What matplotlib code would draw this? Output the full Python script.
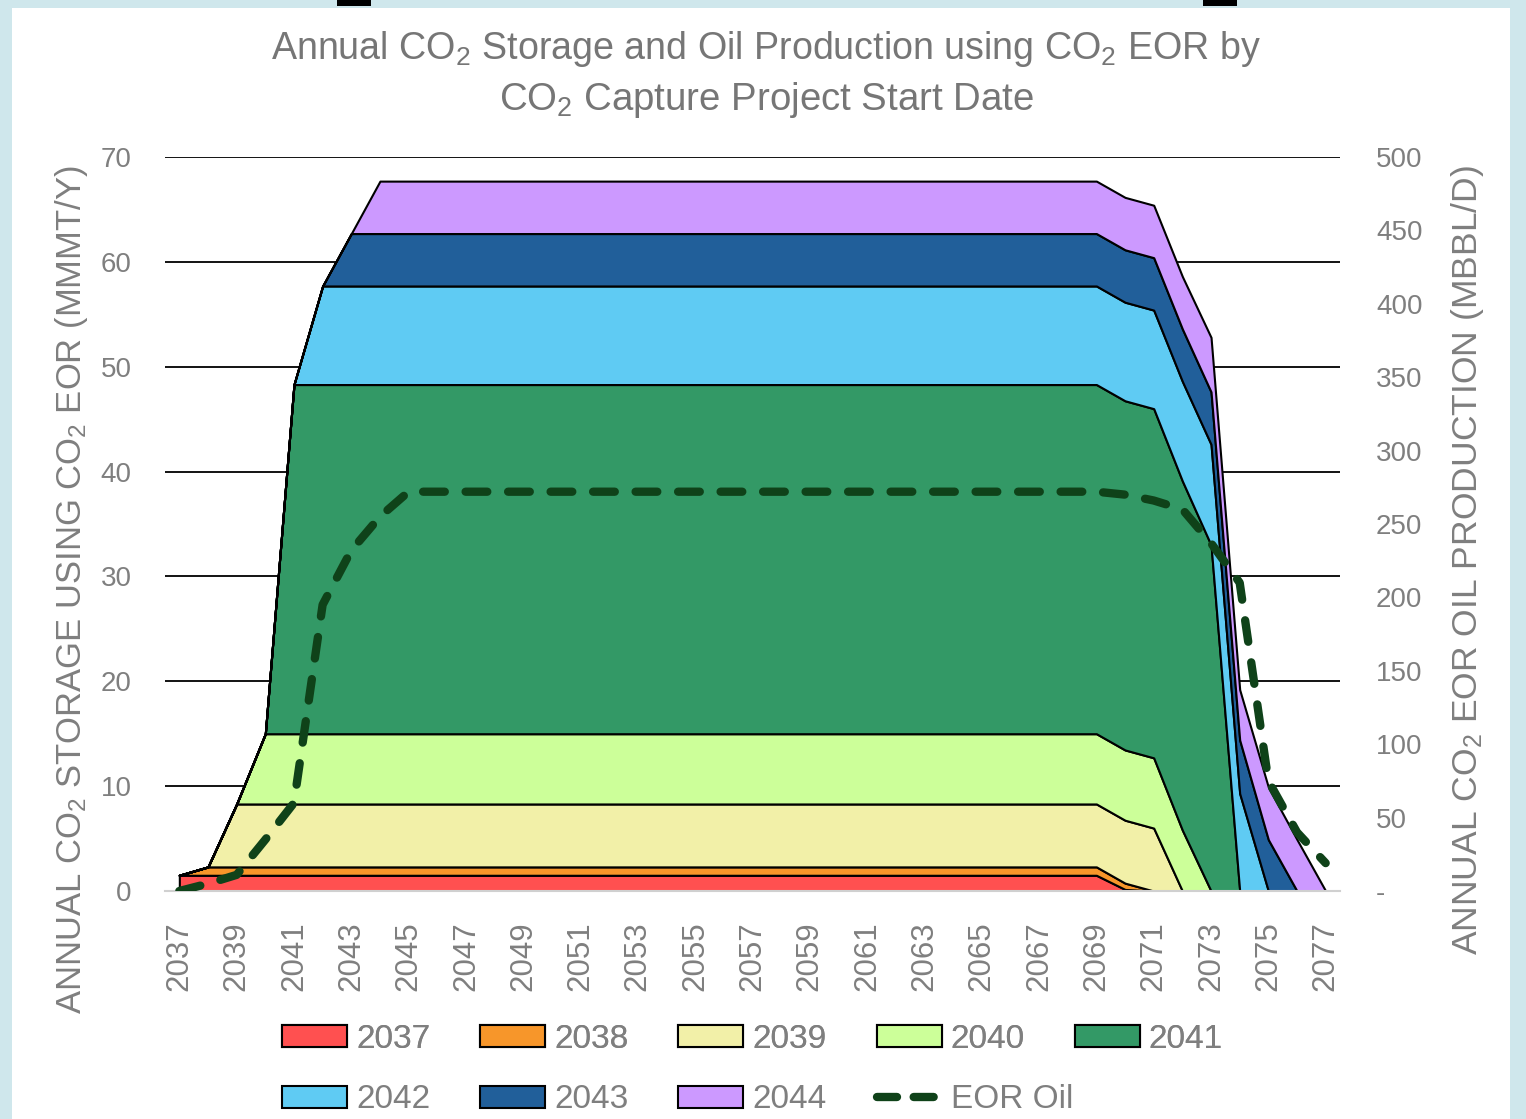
import matplotlib
matplotlib.use("Agg")
import matplotlib.pyplot as plt
from matplotlib.patches import Rectangle, Patch
from matplotlib.lines import Line2D

# ---- data ----
years = list(range(2037, 2078))

p2037 = [1.5, 1.5, 1.5, 1.5, 1.5, 1.5, 1.5, 1.5, 1.5, 1.5,
         1.5, 1.5, 1.5, 1.5, 1.5, 1.5, 1.5, 1.5, 1.5, 1.5,
         1.5, 1.5, 1.5, 1.5, 1.5, 1.5, 1.5, 1.5, 1.5, 1.5,
         1.5, 1.5, 1.5, 0.15, 0, 0, 0, 0, 0, 0,
         0]
p2038 = [0, 0.8, 0.8, 0.8, 0.8, 0.8, 0.8, 0.8, 0.8, 0.8,
         0.8, 0.8, 0.8, 0.8, 0.8, 0.8, 0.8, 0.8, 0.8, 0.8,
         0.8, 0.8, 0.8, 0.8, 0.8, 0.8, 0.8, 0.8, 0.8, 0.8,
         0.8, 0.8, 0.8, 0.6, 0, 0, 0, 0, 0, 0,
         0]
p2039 = [0, 0, 6.0, 6.0, 6.0, 6.0, 6.0, 6.0, 6.0, 6.0,
         6.0, 6.0, 6.0, 6.0, 6.0, 6.0, 6.0, 6.0, 6.0, 6.0,
         6.0, 6.0, 6.0, 6.0, 6.0, 6.0, 6.0, 6.0, 6.0, 6.0,
         6.0, 6.0, 6.0, 6.0, 6.0, 0, 0, 0, 0, 0,
         0]
p2040 = [0, 0, 0, 6.7, 6.7, 6.7, 6.7, 6.7, 6.7, 6.7,
         6.7, 6.7, 6.7, 6.7, 6.7, 6.7, 6.7, 6.7, 6.7, 6.7,
         6.7, 6.7, 6.7, 6.7, 6.7, 6.7, 6.7, 6.7, 6.7, 6.7,
         6.7, 6.7, 6.7, 6.7, 6.7, 5.8, 0, 0, 0, 0,
         0]
p2041 = [0, 0, 0, 0, 33.3, 33.3, 33.3, 33.3, 33.3, 33.3,
         33.3, 33.3, 33.3, 33.3, 33.3, 33.3, 33.3, 33.3, 33.3, 33.3,
         33.3, 33.3, 33.3, 33.3, 33.3, 33.3, 33.3, 33.3, 33.3, 33.3,
         33.3, 33.3, 33.3, 33.3, 33.3, 33.3, 33.0, 0, 0, 0,
         0]
p2042 = [0, 0, 0, 0, 0, 9.4, 9.4, 9.4, 9.4, 9.4,
         9.4, 9.4, 9.4, 9.4, 9.4, 9.4, 9.4, 9.4, 9.4, 9.4,
         9.4, 9.4, 9.4, 9.4, 9.4, 9.4, 9.4, 9.4, 9.4, 9.4,
         9.4, 9.4, 9.4, 9.4, 9.4, 9.5, 9.6, 9.3, 0, 0,
         0]
p2043 = [0, 0, 0, 0, 0, 0, 5.0, 5.0, 5.0, 5.0,
         5.0, 5.0, 5.0, 5.0, 5.0, 5.0, 5.0, 5.0, 5.0, 5.0,
         5.0, 5.0, 5.0, 5.0, 5.0, 5.0, 5.0, 5.0, 5.0, 5.0,
         5.0, 5.0, 5.0, 5.0, 5.0, 5.0, 5.0, 5.1, 4.9, 0,
         0]
p2044 = [0, 0, 0, 0, 0, 0, 0, 5.0, 5.0, 5.0,
         5.0, 5.0, 5.0, 5.0, 5.0, 5.0, 5.0, 5.0, 5.0, 5.0,
         5.0, 5.0, 5.0, 5.0, 5.0, 5.0, 5.0, 5.0, 5.0, 5.0,
         5.0, 5.0, 5.0, 5.0, 5.0, 5.0, 5.2, 4.8, 5.0, 4.9,
         0]
eor_oil = [0, 5, 11, 35, 60, 195, 232, 255, 272, 272,
           272, 272, 272, 272, 272, 272, 272, 272, 272, 272,
           272, 272, 272, 272, 272, 272, 272, 272, 272, 272,
           272, 272, 272, 270, 266, 260, 237, 210, 75, 40,
           19]

series_names = ["2037", "2038", "2039", "2040", "2041", "2042", "2043", "2044"]
colors = ["#FF5050", "#F7962A", "#F2F0A8", "#CCFF99",
          "#339966", "#5FCBF3", "#215F9A", "#CC99FF"]
oil_color = "#0F4219"
gray = "#7F7F7F"

plt.rcParams["font.family"] = ["Liberation Sans", "DejaVu Sans"]
plt.rcParams["mathtext.default"] = "regular"

W, H = 1526, 1119
fig = plt.figure(figsize=(W / 100, H / 100), dpi=100, facecolor="#CFE7EC")
# white chart area and the two little selection handles on top
fig.patches.append(Rectangle((12 / W, 0), 1498 / W, 1 - 8 / H, transform=fig.transFigure,
                             facecolor="white", edgecolor="none", zorder=-5))
for hx in (337, 1203):
    fig.patches.append(Rectangle((hx / W, 1 - 6 / H), 34 / W, 6 / H, transform=fig.transFigure,
                                 facecolor="black", edgecolor="none", zorder=-4))

ax = fig.add_axes([165 / W, 1 - 891 / H, 1175 / W, 734 / H])
ax.patch.set_alpha(0)
ax.stackplot(years, p2037, p2038, p2039, p2040, p2041, p2042, p2043, p2044,
             colors=colors, edgecolor="black", linewidth=1.5)
ax.set_xlim(2036.5, 2077.5)
ax.set_ylim(0, 70)
ax.set_yticks(range(0, 71, 10))
ax.yaxis.grid(True, color="black", linewidth=1.3)
ax.set_axisbelow(True)
for s in ("left", "right", "top"):
    ax.spines[s].set_visible(False)
ax.spines["bottom"].set_color("#D0D0D0")
ax.spines["bottom"].set_linewidth(1.5)
ax.spines["bottom"].set_zorder(5)
ax.set_xticks(range(2037, 2078, 2))
ax.set_xticklabels([str(y) for y in range(2037, 2078, 2)], rotation=90)
ax.tick_params(axis="x", length=0, labelsize=22.5, labelcolor=gray, pad=22)
ax.tick_params(axis="y", length=0, labelsize=20, labelcolor=gray, pad=24)

ax2 = ax.twinx()
ax2.plot(years, eor_oil, color=oil_color, linewidth=6, dashes=(2.6, 2.5),
         dash_capstyle="round", solid_capstyle="round")
ax2.set_ylim(0, 500)
ax2.set_yticks(range(0, 501, 50))
ax2.set_yticklabels(["-"] + [str(v) for v in range(50, 501, 50)])
for s in ax2.spines.values():
    s.set_visible(False)
ax2.tick_params(axis="y", length=0, labelsize=20, labelcolor=gray, pad=26)

t1 = fig.text(766 / W, 1 - 59 / H, "Annual CO$_2$ Storage and Oil Production using CO$_2$ EOR by",
              ha="center", va="baseline", fontsize=30, color="#767676")
t2 = fig.text(766 / W, 1 - 110 / H, "CO$_2$ Capture Project Start Date",
              ha="center", va="baseline", fontsize=30, color="#767676")
yl = fig.text(72 / W, 1 - 590 / H, "ANNUAL CO$_2$ STORAGE USING CO$_2$ EOR (MMMT/Y)",
              rotation=90, ha="center", va="center", fontsize=27, color=gray)
yr = fig.text(1467 / W, 1 - 560 / H, "ANNUAL CO$_2$ EOR OIL PRODUCTION (MBBL/D)",
              rotation=90, ha="center", va="center", fontsize=27, color=gray)

# no narrow font available: size each long text to the span it covers in the original
renderer = fig.canvas.get_renderer()
for txt, span, vertical in ((t1, 990, False), (t2, 534, False), (yl, 850, True), (yr, 790, True)):
    bb = txt.get_window_extent(renderer)
    now = bb.height if vertical else bb.width
    txt.set_fontsize(txt.get_fontsize() * span / now)

# legend, two rows laid out like the original
patches = [Patch(facecolor=c, edgecolor="black", linewidth=1.5) for c in colors]
oil_handle = Line2D([], [], color=oil_color, linewidth=6, dashes=(2.4, 2.0),
                    dash_capstyle="round")
leg_kw = dict(frameon=False, loc="center left", ncol=5, borderpad=0, borderaxespad=0,
              handlelength=1.95, handleheight=0.65, handletextpad=0.27,
              columnspacing=1.5, labelcolor=gray,
              prop={"size": 24})
leg1 = fig.legend(patches[:5], series_names[:5], bbox_to_anchor=(282 / W, 1 - 1039 / H), **leg_kw)
fig.add_artist(leg1)
fig.legend(patches[5:] + [oil_handle], series_names[5:] + ["EOR Oil"],
           bbox_to_anchor=(282 / W, 1 - 1100 / H), **leg_kw)

fig.savefig("out.png", dpi=100, facecolor=fig.get_facecolor())
